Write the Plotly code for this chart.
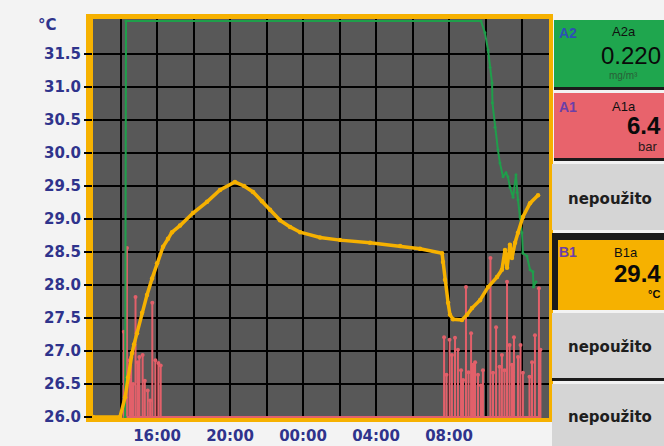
import plotly.graph_objects as go

# ---- data (time in hours from midnight of the first day) ----
b1_hours = [12.49, 13.97, 14.25, 14.41, 14.63, 14.74, 14.90, 15.18, 15.45, 15.73,
            16.00, 16.33, 16.60, 16.82, 17.26, 17.97, 18.74, 19.45, 20.27, 20.77,
            21.26, 21.75, 22.19, 22.74, 23.29, 23.84, 24.93, 26.03, 27.67, 29.32,
            30.41, 31.62, 31.67, 31.78, 31.95, 32.05, 32.22, 32.71, 32.99, 33.26,
            33.70, 34.14, 34.63, 34.90, 35.07, 35.18, 35.34, 35.45, 35.62, 35.78,
            36.05, 36.44, 36.88]
b1_temp = [26.0, 26.0, 26.3, 26.6, 26.97, 27.1, 27.27, 27.58, 27.85, 28.1,
           28.33, 28.58, 28.7, 28.8, 28.9, 29.09, 29.26, 29.44, 29.56, 29.5,
           29.41, 29.27, 29.14, 28.98, 28.88, 28.8, 28.72, 28.68, 28.64, 28.59,
           28.55, 28.48, 28.35, 28.08, 27.73, 27.55, 27.48, 27.47, 27.55, 27.65,
           27.77, 27.97, 28.12, 28.23, 28.53, 28.26, 28.61, 28.41, 28.64, 28.79,
           29.03, 29.24, 29.36]

a2_hours = [14.25, 14.30, 33.75, 33.97, 34.14, 34.25, 34.36, 34.38, 34.52, 34.68,
            34.79, 34.96, 35.12, 35.23, 35.34, 35.51, 35.67, 35.73, 35.78, 35.89,
            36.00, 36.05, 36.27, 36.44, 36.60, 36.63, 36.77]
a2_scaled = [26.0, 32.0, 32.0, 31.82, 31.56, 31.3, 31.06, 30.76, 30.39, 30.05,
             29.85, 29.64, 29.7, 29.64, 29.48, 29.33, 29.67, 29.4, 29.29, 29.03,
             28.79, 28.48, 28.44, 28.23, 28.2, 27.97, 28.05]

a1_hours = [14.18, 14.35, 14.49, 14.58, 14.69, 14.82, 14.94, 15.03, 15.21, 15.33,
            15.49, 15.62, 15.74, 15.91, 16.07, 16.20,
            31.73, 31.86, 32.03, 32.16, 32.33, 32.49, 32.66, 32.77, 32.93, 33.07,
            33.21, 33.32, 33.43, 33.59, 33.75, 33.86, 34.27, 34.41, 34.58, 34.77,
            34.90, 35.04, 35.18, 35.32, 35.45, 35.56, 35.78, 35.92, 36.05, 36.41,
            36.55, 36.71, 36.93, 37.01]
a1_scaled = [27.29, 28.56, 26.86, 26.9, 26.5, 27.82, 26.83, 26.91, 26.94, 26.55,
             26.4, 26.25, 27.73, 26.86, 26.82, 26.78,
             27.21, 26.64, 27.17, 26.94, 27.2, 27.02, 26.71, 26.56, 27.97, 26.68,
             27.27, 26.79, 26.83, 26.64, 26.48, 26.71, 28.41, 26.67, 27.36, 26.76,
             26.94, 26.71, 28.05, 27.09, 26.79, 27.21, 26.91, 27.09, 26.67, 26.61,
             26.83, 27.24, 27.95, 27.02]
a1_span = [14.25, 37.0]
a1_base = 26.0

y_ticks = [26.0, 26.5, 27.0, 27.5, 28.0, 28.5, 29.0, 29.5, 30.0, 30.5, 31.0, 31.5]
x_tickvals = [16, 20, 24, 28, 32]
x_ticktext = ["16:00", "20:00", "00:00", "04:00", "08:00"]

# ---- geometry helpers (pixel -> paper) ----
W_PX, H_PX = 664, 446
ML, MR, MT, MB = 93, 115, 19, 28
PW = W_PX - ML - MR
PH = H_PX - MT - MB


def px(x):
    return (x - ML) / PW


def py(y):
    return (H_PX - MB - y) / PH


AXIS_BLUE = "#2f338c"
ORANGE = "#f6b100"
GREEN = "#1f9e4b"
RED = "#e2606a"

# spikes of A1 drawn as vertical strokes rising from the baseline
sx, sy = [a1_span[0]], [a1_base]
for t, v in zip(a1_hours, a1_scaled):
    sx += [t, t, t]
    sy += [a1_base, v, a1_base]
sx.append(a1_span[1])
sy.append(a1_base)

fig = go.Figure()
fig.add_trace(go.Scatter(x=sx, y=sy, mode="lines", line=dict(color=RED, width=2),
                         hoverinfo="skip"))
fig.add_trace(go.Scatter(x=a1_hours, y=a1_scaled, mode="markers",
                         marker=dict(color=RED, size=4), hoverinfo="skip"))
fig.add_trace(go.Scatter(x=a2_hours, y=a2_scaled, mode="lines+markers",
                         line=dict(color=GREEN, width=2),
                         marker=dict(color=GREEN, size=3)))
fig.add_trace(go.Scatter(x=b1_hours, y=b1_temp, mode="lines+markers",
                         line=dict(color=ORANGE, width=3.5),
                         marker=dict(color=ORANGE, size=4.5)))

fig.update_layout(
    width=W_PX, height=H_PX,
    margin=dict(l=ML, r=MR, t=MT, b=MB),
    paper_bgcolor="#f3f3f3",
    plot_bgcolor="#585858",
    showlegend=False,
    font=dict(family="DejaVu Sans", size=15, color=AXIS_BLUE),
)
fig.update_xaxes(
    range=[12.49, 37.48], automargin=False,
    tickvals=x_tickvals, ticktext=x_ticktext,
    showgrid=True, gridcolor="#000000", gridwidth=2,
    minor=dict(dtick=2, tick0=0, showgrid=True, gridcolor="#000000", gridwidth=2),
    zeroline=False, showline=False, ticks="", ticklabelstandoff=7,
    tickfont=dict(family="DejaVu Sans", size=15, color=AXIS_BLUE, weight="bold"),
)
fig.update_yaxes(
    range=[25.985, 32.03], automargin=False,
    tickvals=y_ticks, tickformat=".1f",
    showgrid=True, gridcolor="#000000", gridwidth=2,
    zeroline=False, showline=False,
    ticks="outside", ticklen=8, tickwidth=2, tickcolor="#000000",
    tickfont=dict(family="DejaVu Sans", size=15, color=AXIS_BLUE, weight="bold"),
)

shapes = []


def rect(x0, y0, x1, y1, color, layer="above"):
    shapes.append(dict(type="rect", xref="paper", yref="paper",
                       x0=px(x0), x1=px(x1), y0=py(y1), y1=py(y0),
                       fillcolor=color, line=dict(width=0), layer=layer))


# orange frame round the plot
rect(86, 14, 93, 422, ORANGE, "below")
rect(86, 14, 553, 19, ORANGE)
rect(549, 14, 553, 422, ORANGE)
rect(86, 418, 553, 422, ORANGE, "below")

# channel panel on the right
rect(554, 20, 664, 87, "#1fa64e")
rect(554, 87, 664, 90, "#1b1b1b")
rect(554, 93, 664, 158, "#e8636c")
rect(554, 158, 664, 161, "#1b1b1b")
rect(552, 164, 664, 230, "#d5d5d5")
rect(552, 233, 664, 240, "#1b1b1b")
rect(552, 233, 558, 310, "#1b1b1b")
rect(558, 240, 664, 310, ORANGE)
rect(552, 313, 664, 378, "#d5d5d5")
rect(552, 378, 664, 381, "#1b1b1b")
rect(552, 384, 664, 446, "#d5d5d5")
fig.update_layout(shapes=shapes)

ann = []


def text(x, y, s, size, color="#111111", bold=False, anchor="left",
         family="Liberation Sans"):
    ann.append(dict(xref="paper", yref="paper", x=px(x), y=py(y), text=s,
                    showarrow=False, xanchor=anchor, yanchor="middle",
                    font=dict(family=family, size=size, color=color,
                              weight="bold" if bold else "normal")))


text(47, 25, "°C", 15, AXIS_BLUE, True, "center", "DejaVu Sans")

text(557, 33, "A2", 14, "#2d50b4", True)
text(610, 31, "A2a", 13, "#101010")
text(663, 55, "0.220", 24, "#0a0a0a", False, "right")
text(607, 75, "mg/m³", 10, "#2a5f38")

text(557, 107, "A1", 14, "#6b3fa8", True)
text(610, 106, "A1a", 13, "#101010")
text(663, 125, "6.4", 24, "#0a0a0a", True, "right")
text(636, 146, "bar", 13, "#2a1a1a")

text(610, 199, "nepoužito", 15, "#1e1e1e", True, "center", "DejaVu Sans")

text(557, 252, "B1", 14, "#6b3fa8", True)
text(612, 252, "B1a", 13, "#101010")
text(663, 273, "29.4", 24, "#0a0a0a", True, "right")
text(662, 294, "°C", 11, "#0a0a0a", True, "right")

text(610, 347, "nepoužito", 15, "#1e1e1e", True, "center", "DejaVu Sans")
text(610, 417, "nepoužito", 15, "#1e1e1e", True, "center", "DejaVu Sans")
fig.update_layout(annotations=ann)

fig.write_html("out.html")
